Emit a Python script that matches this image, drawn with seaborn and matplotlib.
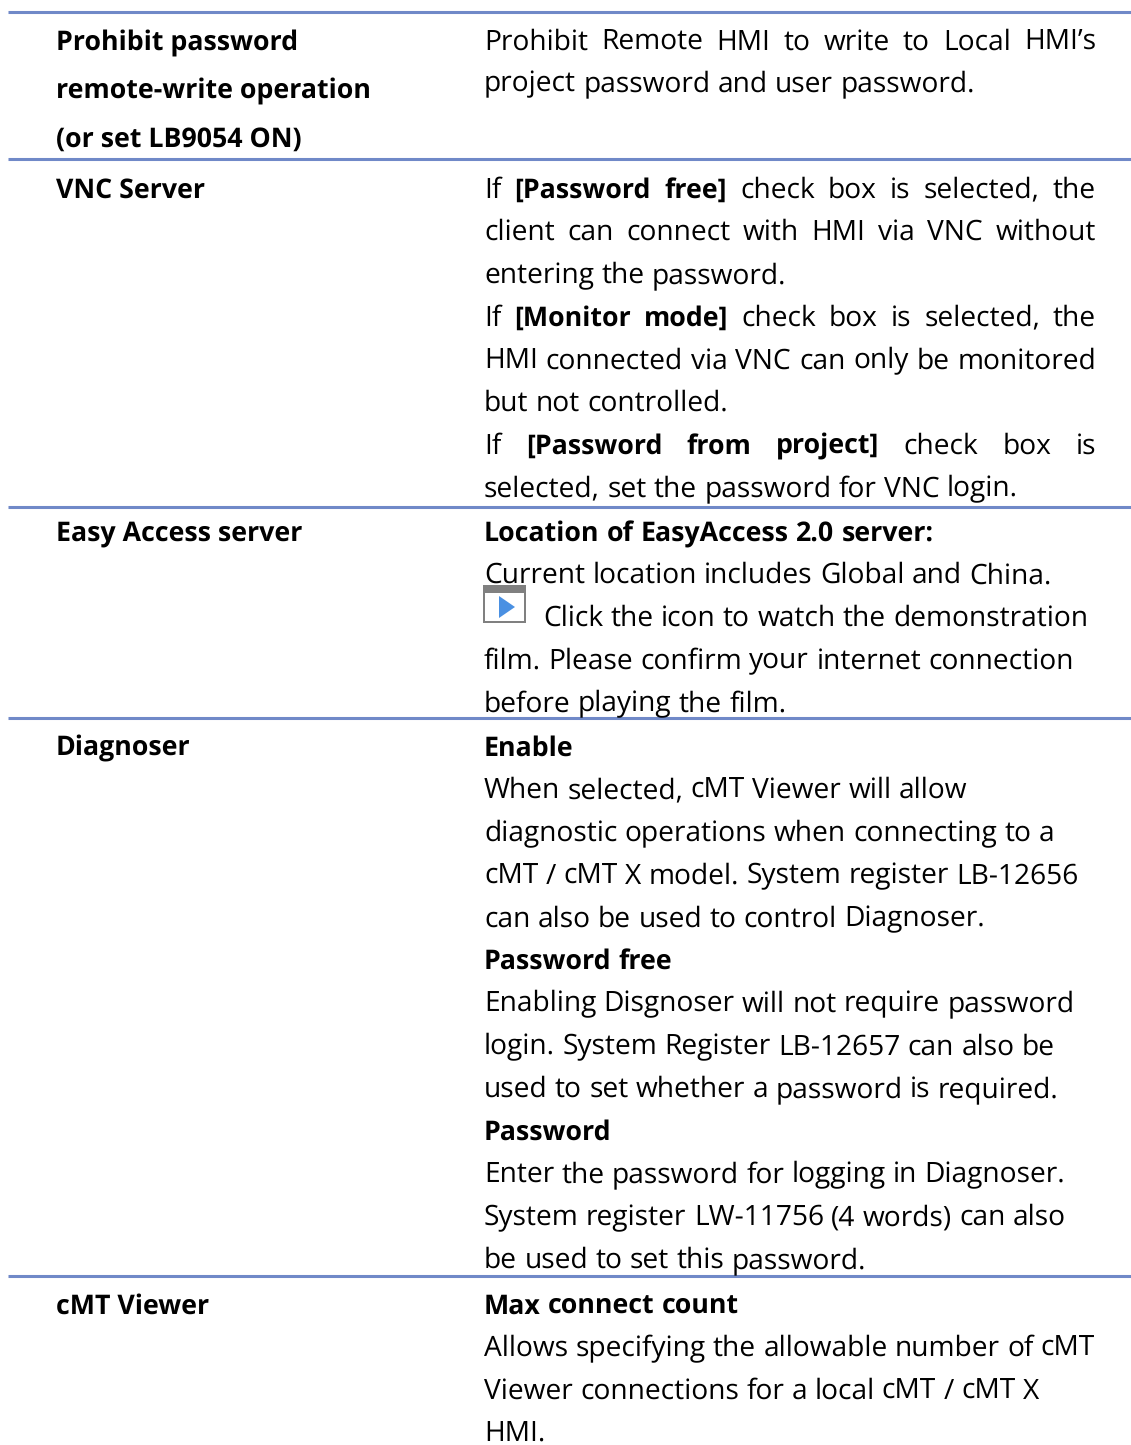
#!/usr/bin/env python

import pandas as pd
import matplotlib.pyplot as plt
import matplotlib.patches as mpatches
import seaborn as sns

sns.set_theme(style='white')
plt.rcParams['font.family'] = ['Open Sans', 'DejaVu Sans']
plt.rcParams['text.hinting'] = 'no_hinting'

# table content, one list per row. ** marks a bold run, trailing | marks a justified line
left_labels = [
    ['Prohibit password', 'remote-write operation', '(or set LB9054 ON)'],
    ['VNC Server'],
    ['Easy Access server'],
    ['Diagnoser'],
    ['cMT Viewer'],
]

row1_lines = [
    'Prohibit Remote HMI to write to Local HMI\u2019s|',
    'project password and user password.',
]
row2_lines = [
    'If **[Password free]** check box is selected, the|',
    'client can connect with HMI via VNC without|',
    'entering the password.',
    'If **[Monitor mode]** check box is selected, the|',
    'HMI connected via VNC can only be monitored|',
    'but not controlled.',
    'If **[Password from project]** check box is|',
    'selected, set the password for VNC login.',
]
row3_lines = [
    '**Location of EasyAccess 2.0 server:**',
    'Current location includes Global and China.',
    '@Click the icon to watch the demonstration',
    'film. Please confirm your internet connection',
    'before playing the film.',
]
row4_lines = [
    '**Enable**',
    'When selected, cMT Viewer will allow',
    'diagnostic operations when connecting to a',
    'cMT / cMT X model. System register LB-12656',
    'can also be used to control Diagnoser.',
    '**Password free**',
    'Enabling Disgnoser will not require password',
    'login. System Register LB-12657 can also be',
    'used to set whether a password is required.',
    '**Password**',
    'Enter the password for logging in Diagnoser.',
    'System register LW-11756 (4 words) can also',
    'be used to set this password.',
]
row5_lines = [
    '**Max connect count**',
    'Allows specifying the allowable number of cMT',
    'Viewer connections for a local cMT / cMT X',
    'HMI.',
]
right_lines = [row1_lines, row2_lines, row3_lines, row4_lines, row5_lines]

# layout in pixels
rule_y = [12, 159, 507, 718, 1276]
first_baseline = [49.5, 197.5, 540.5, 755.5, 1313.5]
left_x = 56
right_x = 484
right_edge = 1096
pitch = 42.7

fs = 28.1 * 72 / 100
fs_bold = 26.7 * 72 / 100


def parse(line):
    # split a line into (word, bold) pairs
    words = []
    for i, part in enumerate(line.split('**')):
        for w in part.split():
            words.append((w, i % 2 == 1))
    return words


def text_width(ax, s, size, weight, rend):
    t = ax.text(0, 0, s, fontsize=size, fontweight=weight)
    w = t.get_window_extent(rend).width
    t.remove()
    return w


def draw_line(ax, line, x, y, rend):
    justify = line.endswith('|')
    line = line.rstrip('|')
    if line.startswith('@'):
        x = 543
        line = line[1:]
    words = parse(line)
    artists = []
    for w, b in words:
        artists.append(ax.text(x, y, w, fontsize=fs_bold if b else fs, color='black',
                               va='baseline', fontweight='bold' if b else 'normal'))
    space = text_width(ax, 'a a', fs, 'normal', rend) - text_width(ax, 'aa', fs, 'normal', rend)
    widths = [a.get_window_extent(rend).width for a in artists]
    if justify and len(words) > 1:
        space = (right_edge - x - sum(widths)) / (len(words) - 1)
    cur = x
    for a, w in zip(artists, widths):
        a.set_x(cur)
        cur += w + space


fig = plt.figure(figsize=(11.31, 14.45), dpi=100)
ax = fig.add_axes([0, 0, 1, 1])
rend = fig.canvas.get_renderer()

# horizontal rules
rules = pd.DataFrame({
    'x': [8, 1131] * len(rule_y),
    'y': [y for y in rule_y for _ in range(2)],
    'rule': [i for i in range(len(rule_y)) for _ in range(2)],
})
sns.lineplot(data=rules, x='x', y='y', units='rule', estimator=None, color='#7089c8',
             linewidth=2.2, ax=ax, legend=False, solid_capstyle='butt')

ax.set_xlim(0, 1131)
ax.set_ylim(1445, 0)
ax.axis('off')

for r, labels in enumerate(left_labels):
    base = 51 if r == 0 else first_baseline[r]
    for i, t in enumerate(labels):
        ax.text(left_x, base + i * 48, t, fontsize=fs_bold, fontweight='bold', color='black', va='baseline')

for r, lines in enumerate(right_lines):
    step = 42 if r == 0 else pitch
    for i, line in enumerate(lines):
        draw_line(ax, line, right_x, first_baseline[r] + i * step, rend)

# play icon in the Easy Access row
ax.add_patch(mpatches.Rectangle((483, 585), 43, 8, color='#808080', lw=0))
ax.add_patch(mpatches.Rectangle((483, 621), 43, 2, color='#808080', lw=0))
ax.add_patch(mpatches.Rectangle((483, 585), 2, 38, color='#808080', lw=0))
ax.add_patch(mpatches.Rectangle((524, 585), 2, 38, color='#808080', lw=0))
ax.add_patch(mpatches.Polygon([(499, 596), (499, 618), (515, 607)], color='#4a90e2', lw=0))

plt.savefig('out.png', dpi=100)
